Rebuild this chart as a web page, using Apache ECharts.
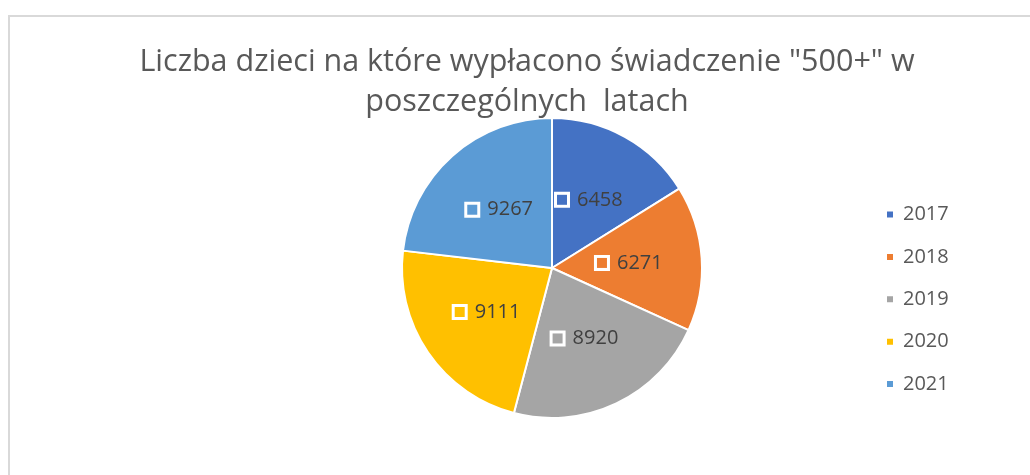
<!DOCTYPE html>
<html>
<head>
<meta charset="utf-8">
<script src="https://cdn.jsdelivr.net/npm/echarts@6/dist/echarts.min.js"></script>
<style>
  html, body { margin: 0; padding: 0; background: #fff; }
  #main { width: 1030px; height: 475px; }
</style>
</head>
<body>
<div id="main"></div>
<script>
var years = ["2017", "2018", "2019", "2020", "2021"];
var children = [6458, 6271, 8920, 9111, 9267];
var colors = ["#4472C4", "#ED7D31", "#A5A5A5", "#FFC000", "#5B9BD5"];

var myChart = echarts.init(document.getElementById("main"));

var pieData = years.map(function (y, i) {
  return {
    name: y,
    value: children[i],
    itemStyle: { color: colors[i] },
    label: {
      rich: {
        sq: {
          width: 10,
          height: 10,
          borderColor: "#fff",
          borderWidth: 3,
          backgroundColor: colors[i],
        },
      },
    },
  };
});

myChart.setOption({
  animation: false,
  textStyle: { fontFamily: "Open Sans" },
  title: {
    text: 'Liczba dzieci na które wypłacono świadczenie "500+" w\nposzczególnych  latach',
    left: 527,
    top: 42,
    padding: 0,
    textAlign: "center",
    textStyle: {
      fontFamily: "Open Sans",
      fontSize: 30.5,
      fontWeight: "normal",
      color: "#595959",
      lineHeight: 40,
    },
  },
  graphic: [
    {
      type: "rect",
      shape: { x: 9, y: 16, width: 1100, height: 500 },
      style: { fill: "none", stroke: "#d9d9d9", lineWidth: 2 },
      silent: true,
    },
  ],
  legend: {
    orient: "vertical",
    left: 885,
    top: 203,
    padding: 0,
    icon: "rect",
    itemWidth: 8,
    itemHeight: 8,
    itemGap: 19.4,
    data: years,
    textStyle: {
      fontFamily: "Open Sans",
      fontSize: 20,
      color: "#595959",
      lineHeight: 23,
      padding: [0, 0, 0, 4],
    },
  },
  series: [
    {
      type: "pie",
      center: [552, 268],
      radius: 150,
      startAngle: 90,
      clockwise: true,
      itemStyle: { borderColor: "#fff", borderWidth: 2 },
      label: {
        position: "inside",
        formatter: "{sq|}{v|{c}}",
        rich: {
          v: {
            fontFamily: "Open Sans",
            fontSize: 20,
            color: "#404040",
            padding: [0, 0, 0, 10],
          },
        },
      },
      labelLine: { show: false },
      emphasis: { disabled: true },
      data: pieData,
    },
  ],
});
</script>
</body>
</html>
